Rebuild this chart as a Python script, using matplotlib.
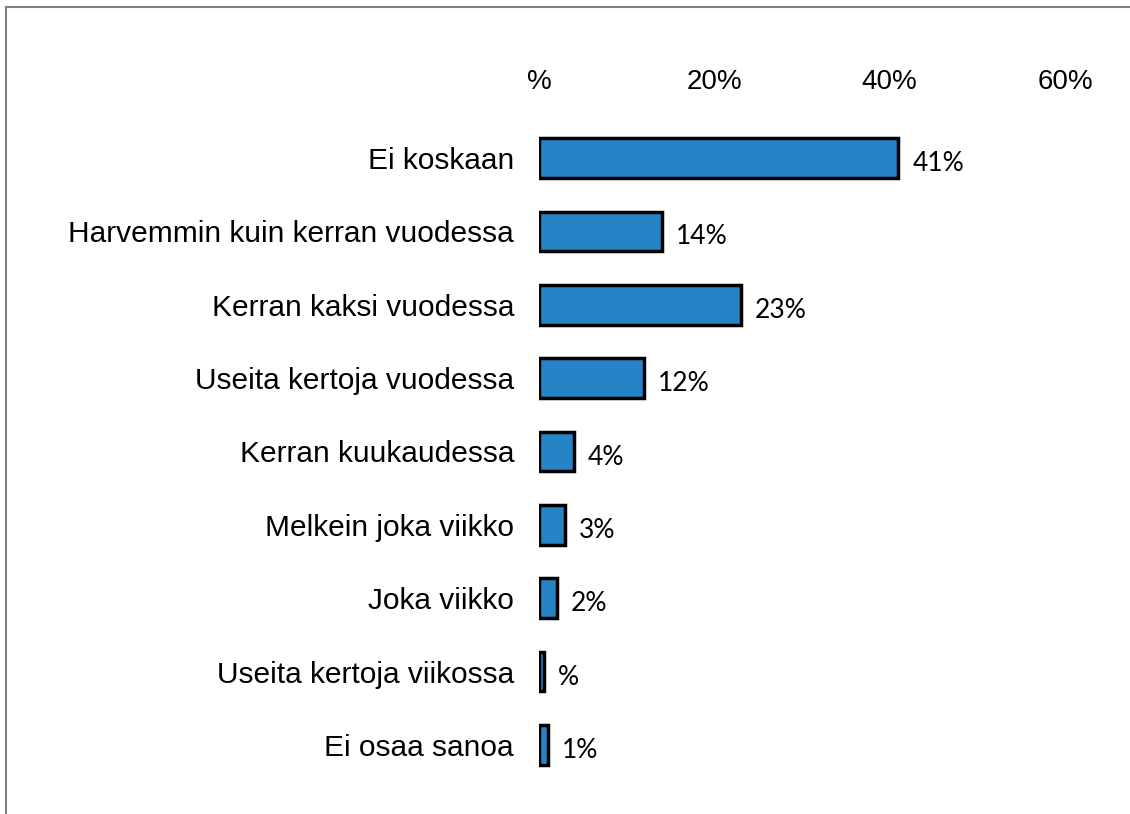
import matplotlib.pyplot as plt
from matplotlib.lines import Line2D

categories = ['Ei koskaan', 'Harvemmin kuin kerran vuodessa', 'Kerran kaksi vuodessa',
              'Useita kertoja vuodessa', 'Kerran kuukaudessa', 'Melkein joka viikko',
              'Joka viikko', 'Useita kertoja viikossa', 'Ei osaa sanoa']
values = [41, 14, 23, 12, 4, 3, 2, 0.6, 1]
value_labels = ['41%', '14%', '23%', '12%', '4%', '3%', '2%', '%', '1%']
tick_values = [0, 20, 40, 60]
tick_labels = ['%', '20%', '40%', '60%']

fig = plt.figure(figsize=(11.3, 8.14), dpi=100)
ax = fig.add_axes([0.477, 0.0397, 0.4655, 0.8113])

y = list(range(len(categories)))
ax.barh(y, values, height=0.54, color='#2683c6', edgecolor='black', linewidth=2.5)
ax.set_ylim(len(categories) - 0.5, -0.5)
ax.set_xlim(0, 60)

ax.set_yticks(y)
ax.set_yticklabels(categories, fontsize=21.5, family='Liberation Sans')
ax.tick_params(axis='y', length=0, pad=18)

ax.xaxis.tick_top()
ax.set_xticks(tick_values)
ax.set_xticklabels(tick_labels, fontsize=20, family='Liberation Sans')
ax.tick_params(axis='x', length=0, pad=19)

for yi, v, lab in zip(y, values, value_labels):
    ax.annotate(lab, (v, yi), xytext=(10, -4), textcoords='offset points',
                ha='left', va='center', fontsize=19, family='Lato')

for s in ax.spines.values():
    s.set_visible(False)

# outer frame (only top and left edges visible)
fig.add_artist(Line2D([6 / 1130, 1], [1 - 7 / 814, 1 - 7 / 814], color='#808080', linewidth=1.5))
fig.add_artist(Line2D([6 / 1130, 6 / 1130], [0, 1 - 7 / 814], color='#808080', linewidth=1.5))

fig.savefig('out.png', dpi=100)
